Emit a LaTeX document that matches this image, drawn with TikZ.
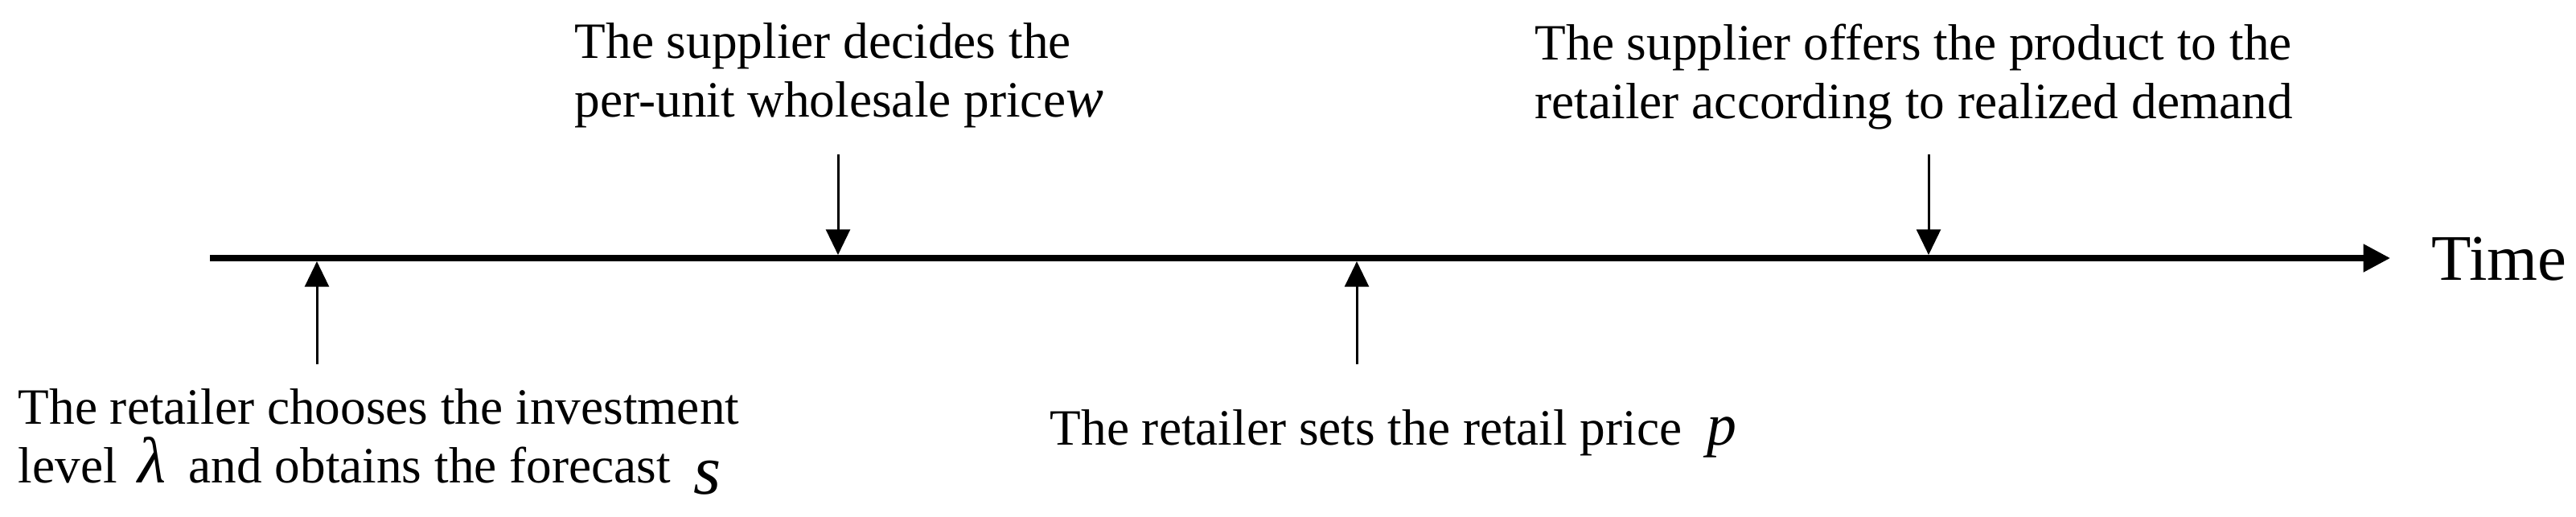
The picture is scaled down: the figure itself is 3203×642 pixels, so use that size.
\documentclass[tikz,border=0pt]{standalone}
\usepackage{fontspec}
\setmainfont{Liberation Serif}
\usetikzlibrary{arrows.meta}
\newcommand{\mvar}[2]{{\fontsize{#1}{#1}\selectfont\itshape #2}}
\begin{document}
\begin{tikzpicture}[x=0.01cm,y=-0.01cm,
  lbl/.style={inner sep=0pt, align=left, font=\fontsize{18}{20.5}\selectfont, anchor=base west},
  timelbl/.style={inner sep=0pt, font=\fontsize{23}{26}\selectfont, anchor=base west},
  tline/.style={line width=2pt, -{Triangle[length=9.5pt,width=9.5pt]}},
  evarrow/.style={line width=0.85pt, -{Triangle[length=9pt,width=8.5pt]}}]
\useasboundingbox (0,0) rectangle (3203,642);
% timeline
\coordinate (tstart) at (261,321);
\coordinate (tend) at (2972,321);
\draw[tline] (tstart) -- (tend);
\node[timelbl] (time) at (3023,348) {Time};
% labels (base anchor = baseline of last line)
\node[lbl] (l1) at (22,600) {The retailer chooses the investment\\level\hspace{0.4em}\mvar{23}{λ}\hspace{0.45em}and obtains the forecast\hspace{0.45em}\raisebox{-4pt}{\mvar{25}{s}}};
\node[lbl] (l2) at (714,145) {The supplier decides the\\per-unit wholesale price\mvar{20}{w}};
\node[lbl] (l3) at (1305,553) {The retailer sets the retail price\hspace{0.5em}\mvar{21}{p}};
\node[lbl] (l4) at (1908,147) {The supplier offers the product to the\\retailer according to realized demand};
% event arrows
\coordinate (a1s) at (394,453); \coordinate (a1e) at (394,325);
\coordinate (a2s) at (1042,192); \coordinate (a2e) at (1042,317);
\coordinate (a3s) at (1687,453); \coordinate (a3e) at (1687,325);
\coordinate (a4s) at (2398,192); \coordinate (a4e) at (2398,317);
\draw[evarrow] (a1s) -- (a1e);
\draw[evarrow] (a2s) -- (a2e);
\draw[evarrow] (a3s) -- (a3e);
\draw[evarrow] (a4s) -- (a4e);
\end{tikzpicture}
\end{document}
